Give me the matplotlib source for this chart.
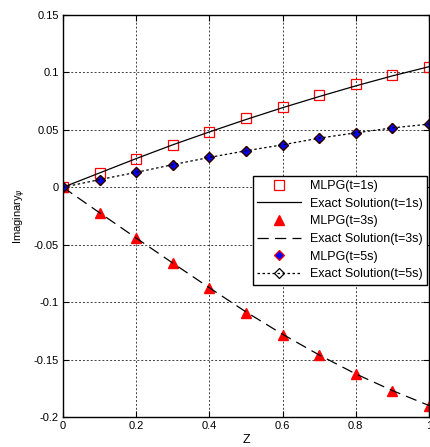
import matplotlib
matplotlib.use('Agg')
import matplotlib.pyplot as plt

# ── Data ──────────────────────────────────────────────────────────────────────
z = [0.0, 0.1, 0.2, 0.3, 0.4, 0.5, 0.6, 0.7, 0.8, 0.9, 1.0]

mlpg_t1  = [0.0, 0.0127, 0.0246, 0.0370, 0.0485, 0.0600, 0.0702, 0.0800, 0.0896, 0.0977, 0.1049]
exact_t1 = [0.0, 0.0125, 0.0250, 0.0370, 0.0482, 0.0590, 0.0693, 0.0790, 0.0883, 0.0970, 0.1050]

mlpg_t3  = [0.0, -0.0221, -0.0443, -0.0660, -0.0873, -0.1095, -0.1282, -0.1463, -0.1628, -0.1773, -0.1905]
exact_t3 = [0.0, -0.0222, -0.0442, -0.0660, -0.0875, -0.1085, -0.1280, -0.1460, -0.1625, -0.1770, -0.1900]

mlpg_t5  = [0.0, 0.0067, 0.0130, 0.0197, 0.0260, 0.0318, 0.0370, 0.0428, 0.0474, 0.0517, 0.0550]
exact_t5 = [0.0, 0.0067, 0.0130, 0.0197, 0.0260, 0.0318, 0.0370, 0.0428, 0.0474, 0.0517, 0.0550]

xticks = [0, 0.2, 0.4, 0.6, 0.8, 1]
xtick_labels = ['0', '0.2', '0.4', '0.6', '0.8', '1']
yticks = [-0.2, -0.15, -0.1, -0.05, 0, 0.05, 0.1, 0.15]
ytick_labels = ['-0.2', '-0.15', '-0.1', '-0.05', '0', '0.05', '0.1', '0.15']

plt.rcParams['font.family'] = ['Liberation Sans', 'DejaVu Sans']

fig = plt.figure(figsize=(4.3, 4.47), dpi=100)
ax = fig.add_axes([63 / 430, 30 / 447, 366 / 430, 402 / 447])

ax.plot(z, mlpg_t1, ls='none', marker='s', ms=7, mfc='none', mec='red', mew=0.9,
        label='MLPG(t=1s)')
ax.plot(z, exact_t1, '-', color='black', lw=0.9, label='Exact Solution(t=1s)')
ax.plot(z, mlpg_t3, ls='none', marker='^', ms=7.5, mfc='red', mec='red',
        label='MLPG(t=3s)')
ax.plot(z, exact_t3, color='black', lw=0.9, dashes=(9, 5), label='Exact Solution(t=3s)')
ax.plot(z, mlpg_t5, ls='none', marker='D', ms=5.5, mfc='blue', mec='red', mew=0.9,
        label='MLPG(t=5s)')
ax.plot(z, exact_t5, color='black', lw=0.9, ls=(0, (2, 2)), marker='D', ms=5.5,
        mfc='none', mec='black', mew=0.9, label='Exact Solution(t=5s)')

ax.set_xlim(0, 1)
ax.set_ylim(-0.2, 0.15)
ax.set_xticks(xticks)
ax.set_xticklabels(xtick_labels)
ax.set_yticks(yticks)
ax.set_yticklabels(ytick_labels)
ax.tick_params(direction='in', top=True, right=True, labelsize=8, length=4, pad=3)
ax.grid(True, color='black', ls=(0, (2, 2)), lw=0.7, alpha=0.75)
for sp in ax.spines.values():
    sp.set_linewidth(1.0)

ax.set_xlabel('Z', fontsize=9, labelpad=2)
ax.set_ylabel(r'Imaginary$_\psi$', fontsize=8, labelpad=4)

leg = ax.legend(loc='upper right', bbox_to_anchor=(0.995, 0.6), fontsize=9,
                numpoints=1, handlelength=3.5, frameon=True, fancybox=False,
                edgecolor='black', framealpha=1, borderpad=0.35, labelspacing=0.45,
                handletextpad=0.75, borderaxespad=0)
leg.get_frame().set_linewidth(1.0)

fig.savefig('out.png', dpi=100)
